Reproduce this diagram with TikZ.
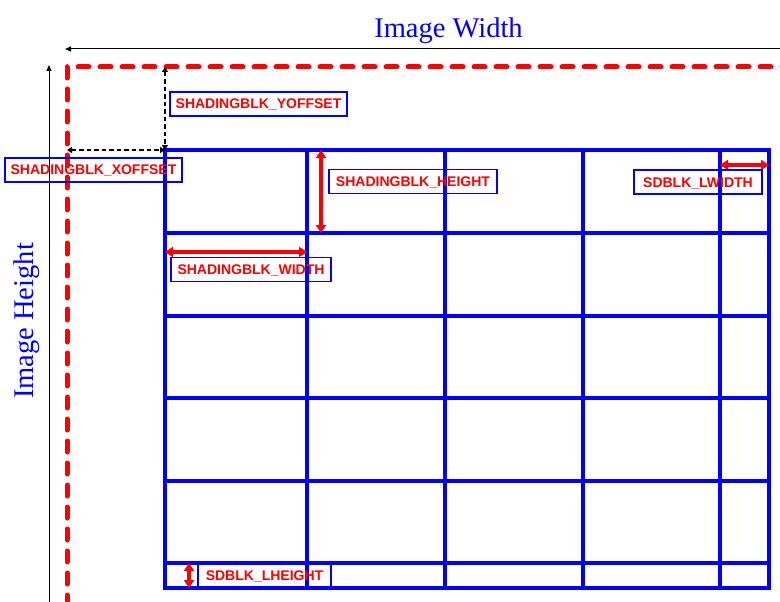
\documentclass[tikz,border=0pt]{standalone}
\usepackage{fontspec}
\setmainfont{Liberation Serif}
\newfontfamily\lblfont{Liberation Sans}
\usetikzlibrary{arrows.meta}
\begin{document}
\begin{tikzpicture}[x=1pt,y=-1pt,
  gridline/.style={blue, line width=3.8pt, line cap=rect},
  imgborder/.style={red, line width=5pt, line cap=round, line join=round, dash pattern=on 11pt off 11pt},
  lbl/.style={draw=blue, line width=1.3pt, text=red, font=\lblfont\bfseries\fontsize{14}{16}\selectfont,
    minimum height=24pt, inner xsep=5pt, inner ysep=0pt, text height=10pt, text depth=0pt},
  dimtext/.style={text=blue, font=\fontsize{28.5}{30}\selectfont, inner sep=0pt, anchor=base},
  redarrow/.style={red, line width=3.8pt, {Triangle[length=8pt,width=10pt]}-{Triangle[length=8pt,width=10pt]}},
  blackarrow/.style={black, line width=1pt, -{Triangle[length=6pt,width=5pt]}},
  offsetarrow/.style={black, line width=2.2pt, dash pattern=on 4.5pt off 3pt, {Triangle[length=5pt,width=6pt]}-{Triangle[length=5pt,width=6pt]}}
]
\useasboundingbox (0,0) rectangle (780,602);

% grid coordinates
\foreach \i/\x in {0/165,1/307,2/445,3/583,4/720,5/769}{
  \foreach \j/\y in {0/150,1/233,2/316,3/398,4/481,5/563,6/588}{
    \coordinate (g\i\j) at (\x,\y);
  }
}
\foreach \i in {0,...,5}{ \draw[gridline] (g\i0) -- (g\i6); }
\foreach \j in {0,...,6}{ \draw[gridline] (g0\j) -- (g5\j); }

% image border
\coordinate (bl) at (67,606);
\coordinate (tl) at (67,67);
\coordinate (tr) at (786,67);
\draw[imgborder] (bl) -- (tl) -- (tr);

% image width / height arrows
\coordinate (wa) at (782,49);
\coordinate (wb) at (65,49);
\draw[blackarrow] (wa) -- (wb);
\coordinate (ha) at (49,604);
\coordinate (hb) at (49,65);
\draw[blackarrow] (ha) -- (hb);
\node[dimtext] (iw) at (448.5,37.3) {Image Width};
\node[dimtext, rotate=90] (ih) at (33,321) {Image Height};

% offset arrows
\coordinate (yo1) at (165,67);
\coordinate (xo1) at (67,150);
\draw[offsetarrow] (yo1) -- (g00);
\draw[offsetarrow] (xo1) -- (g00);

% block dimension arrows
\coordinate (h1) at (321,150);
\coordinate (h2) at (321,233);
\draw[redarrow] (h1) -- (h2);
\coordinate (w1) at (165,252);
\coordinate (w2) at (307,252);
\draw[redarrow] (w1) -- (w2);
\coordinate (lw1) at (720,165);
\coordinate (lw2) at (769,165);
\draw[redarrow] (lw1) -- (lw2);
\coordinate (lh1) at (189,563);
\coordinate (lh2) at (189,588);
\draw[redarrow] (lh1) -- (lh2);

% labels
\node[lbl, minimum width=177pt] (ly) at (258.5,104) {SHADINGBLK\_YOFFSET};
\node[lbl, minimum width=177pt] (lx) at (93.5,170) {SHADINGBLK\_XOFFSET};
\node[lbl, minimum width=168pt] (lh) at (413,181.5) {SHADINGBLK\_HEIGHT};
\node[lbl, minimum width=128pt] (llw) at (698,182) {SDBLK\_LWIDTH};
\node[lbl, minimum width=160pt] (lw) at (251,269.5) {SHADINGBLK\_WIDTH};
\node[lbl, minimum width=133pt] (llh) at (264.5,575.5) {SDBLK\_LHEIGHT};
\end{tikzpicture}
\end{document}
